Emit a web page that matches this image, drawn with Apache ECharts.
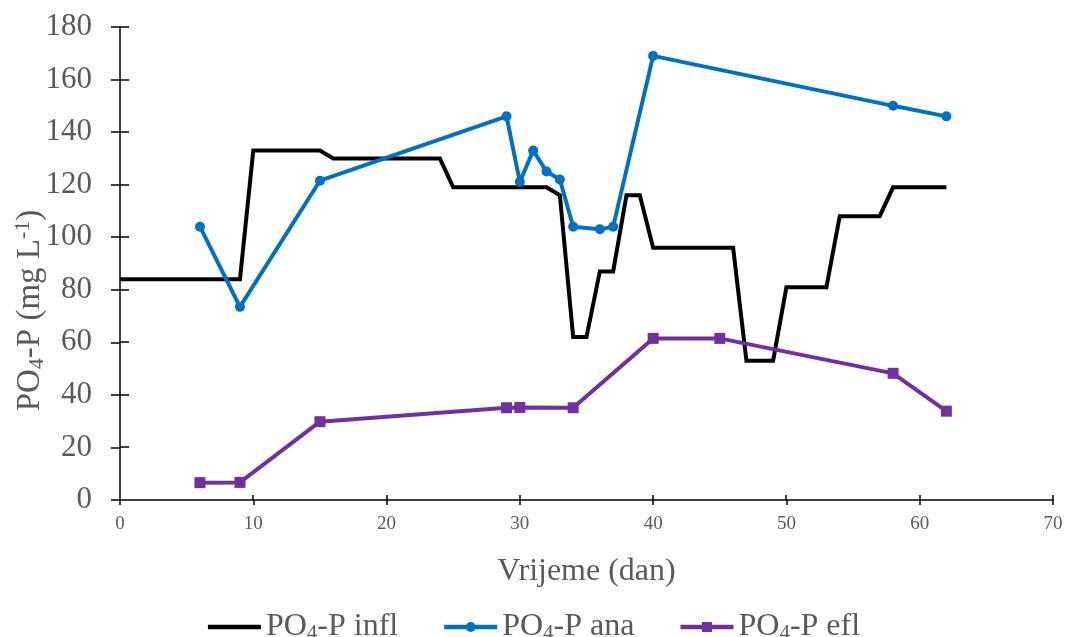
<!DOCTYPE html>
<html>
<head>
<meta charset="utf-8">
<script src="https://cdn.jsdelivr.net/npm/echarts@6/dist/echarts.min.js"></script>
<style>html,body{margin:0;padding:0;background:#fff;}#c{width:1068px;height:637px;}</style>
</head>
<body>
<div id="c"></div>
<script>
// Data
const seriesNames = ['PO4-P infl', 'PO4-P ana', 'PO4-P efl'];
const inflX = [0, 9, 10, 15, 16, 24, 25, 32, 33, 34, 35, 36, 37, 38, 39, 40, 46, 47, 49, 50, 53, 54, 57, 58, 62];
const inflY = [84, 84, 133, 133, 130, 130, 119, 119, 116, 62, 62, 87, 87, 116, 116, 96, 96, 53, 53, 81, 81, 108, 108, 119, 119];
const anaX = [6, 9, 15, 29, 30, 31, 32, 33, 34, 36, 37, 40, 58, 62];
const anaY = [104, 73.5, 121.5, 146, 121, 133, 125, 122, 104, 103, 104, 169, 150, 146];
const eflX = [6, 9, 15, 29, 30, 34, 40, 45, 58, 62];
const eflY = [6.6, 6.7, 29.8, 35.1, 35.2, 35.1, 61.5, 61.5, 48.2, 33.8];
const xTicks = [0, 10, 20, 30, 40, 50, 60, 70];
const yTicks = [0, 20, 40, 60, 80, 100, 120, 140, 160, 180];

const pairs = (xs, ys) => xs.map((x, i) => [x, ys[i]]);
const FONT = '"Liberation Serif", "Times New Roman", serif';
const GRAY = '#595959';

// legend icons: line + marker (on a 53 x 10 box)
const ICON_LINE = 'path://M0,2.8 L53,2.8 L53,7.2 L0,7.2 Z';
const ICON_CIRCLE = 'path://M0,2.8 L53,2.8 L53,7.2 L0,7.2 Z M31.5,5 A5,5 0 1 1 21.5,5 A5,5 0 1 1 31.5,5 Z';
const ICON_SQUARE = 'path://M0,2.8 L53,2.8 L53,7.2 L0,7.2 Z M21.5,0 L31.5,0 L31.5,10 L21.5,10 Z';

const chart = echarts.init(document.getElementById('c'), null, {renderer: 'canvas'});
const option = {
  backgroundColor: '#fff',
  animation: false,
  grid: {left: 120, right: 15, top: 27, bottom: 137, containLabel: false, outerBoundsMode: 'none'},
  legend: {
    top: 606,
    left: 'center',
    itemWidth: 53,
    itemHeight: 10,
    itemGap: 46,
    symbolKeepAspect: true,
    data: [
      {name: seriesNames[0], icon: ICON_LINE},
      {name: seriesNames[1], icon: ICON_CIRCLE},
      {name: seriesNames[2], icon: ICON_SQUARE}
    ],
    textStyle: {
      fontFamily: FONT, fontSize: 32, color: GRAY,
      rich: {
        a: {fontFamily: FONT, fontSize: 32, color: GRAY, lineHeight: 34},
        s: {fontFamily: FONT, fontSize: 21, color: GRAY, verticalAlign: 'bottom', lineHeight: 34}
      }
    },
    formatter: n => '{a|PO}{s|4}{a|' + n.slice(3) + '}'
  },
  xAxis: {
    type: 'value', min: xTicks[0], max: xTicks[xTicks.length - 1], interval: xTicks[1] - xTicks[0],
    splitLine: {show: false},
    name: 'Vrijeme (dan)', nameLocation: 'middle', nameGap: 56,
    nameTextStyle: {fontFamily: FONT, fontSize: 32, color: GRAY},
    axisLine: {show: true, onZero: false, lineStyle: {color: '#000', width: 1.5}},
    axisTick: {show: true, inside: false, length: 5, lineStyle: {color: '#000', width: 1.5}},
    axisLabel: {fontFamily: FONT, fontSize: 19, color: GRAY, margin: 15}
  },
  yAxis: {
    type: 'value', min: yTicks[0], max: yTicks[yTicks.length - 1], interval: yTicks[1] - yTicks[0],
    splitLine: {show: false},
    name: '{a|PO}{s|4}{a|-P (mg L}{p|-1}{a|)}',
    nameLocation: 'middle', nameGap: 72, nameRotate: 90,
    nameMoveOverlap: false,
    nameTextStyle: {
      fontFamily: FONT, fontSize: 33, color: GRAY,
      padding: [0, 94, 0, 0],
      rich: {
        a: {fontFamily: FONT, fontSize: 33, color: GRAY, lineHeight: 36},
        s: {fontFamily: FONT, fontSize: 22, color: GRAY, verticalAlign: 'bottom', lineHeight: 36},
        p: {fontFamily: FONT, fontSize: 22, color: GRAY, verticalAlign: 'top', lineHeight: 36}
      }
    },
    axisLine: {show: true, onZero: false, lineStyle: {color: '#000', width: 1.5}},
    axisTick: {show: true, inside: false, length: 9, lineStyle: {color: '#000', width: 1.5}},
    axisLabel: {fontFamily: FONT, fontSize: 31, color: GRAY, margin: 28}
  },
  series: [
    {
      name: seriesNames[0], type: 'line',
      data: pairs(inflX, inflY), symbol: 'none',
      lineStyle: {color: '#000000', width: 4, join: 'miter'},
      itemStyle: {color: '#000000'}
    },
    {
      name: seriesNames[1], type: 'line',
      data: pairs(anaX, anaY), symbol: 'circle', symbolSize: 10,
      lineStyle: {color: '#0070C0', width: 4},
      itemStyle: {color: '#0070C0'}
    },
    {
      name: seriesNames[2], type: 'line',
      data: pairs(eflX, eflY), symbol: 'rect', symbolSize: 11,
      lineStyle: {color: '#7030A0', width: 4},
      itemStyle: {color: '#7030A0'}
    }
  ]
};
chart.setOption(option);

// inward halves of the crossing tick marks, placed through the axes' own scales
const x0 = chart.convertToPixel({xAxisIndex: 0}, xTicks[0]);
const y0 = chart.convertToPixel({yAxisIndex: 0}, yTicks[0]);
const tickEls = [];
xTicks.slice(1).forEach(v => {
  const px = Math.round(chart.convertToPixel({xAxisIndex: 0}, v));
  tickEls.push({type: 'line', silent: true, z: 100,
    shape: {x1: px, y1: y0, x2: px, y2: y0 - 5},
    style: {stroke: '#000000', lineWidth: 1.5}});
});
yTicks.slice(1).forEach(v => {
  const py = Math.round(chart.convertToPixel({yAxisIndex: 0}, v));
  tickEls.push({type: 'line', silent: true, z: 100,
    shape: {x1: x0, y1: py, x2: x0 + 9, y2: py},
    style: {stroke: '#000000', lineWidth: 1.5}});
});
chart.setOption({graphic: {elements: tickEls}});
</script>
</body>
</html>
